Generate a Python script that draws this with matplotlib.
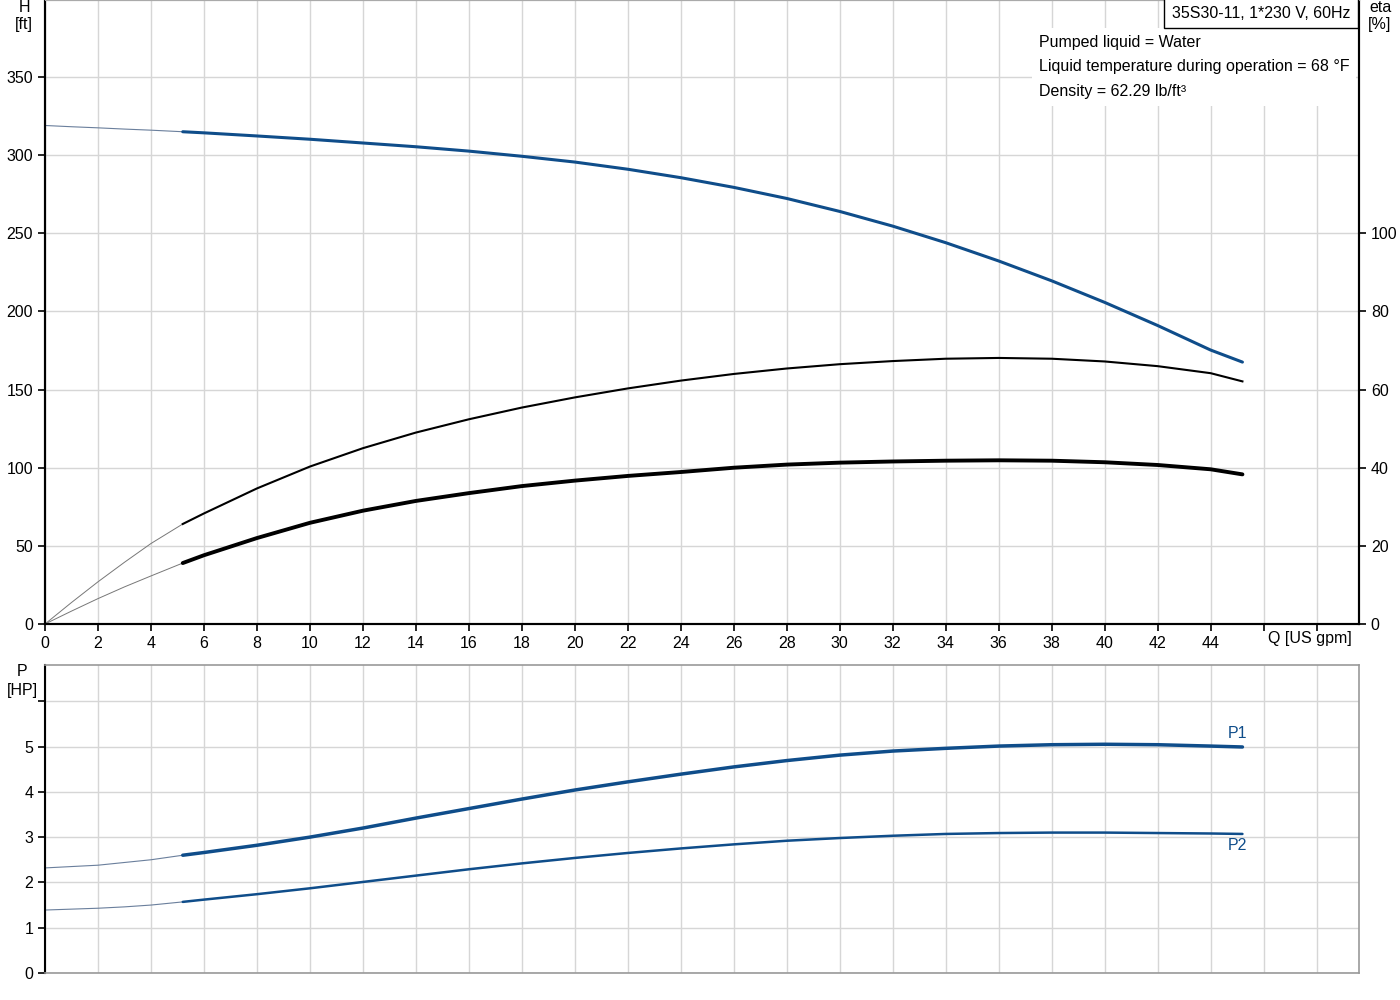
import matplotlib.pyplot as plt

plt.rcParams['font.family'] = ['Liberation Sans', 'DejaVu Sans']
plt.rcParams['font.size'] = 11.5

# flow values (US gpm) for the thin start section and the main section
q_thin = [0, 1, 2, 3, 4, 5.2]
q_main = [5.2, 6, 8, 10, 12, 14, 16, 18, 20, 22, 24, 26, 28, 30, 32, 34, 36, 38, 40, 42, 44, 45.2]

# head H [ft]
h_thin = [319, 318.2, 317.5, 316.7, 316, 315]
h_main = [315, 314.3, 312.3, 310.2, 307.8, 305.4, 302.6, 299.3, 295.6, 291, 285.6, 279.4,
          272.3, 264, 254.6, 244, 232.3, 219.6, 205.8, 191, 175.3, 167.6]

# efficiency curves [%]
eta_thin = [0, 5.5, 10.8, 15.8, 20.6, 25.6]
eta_main = [25.6, 28.3, 34.7, 40.3, 45, 49, 52.4, 55.4, 58, 60.3, 62.3, 64, 65.4, 66.5,
            67.3, 67.9, 68.1, 67.9, 67.2, 66, 64.2, 62.1]
eta2_thin = [0, 3.3, 6.5, 9.5, 12.3, 15.6]
eta2_main = [15.6, 17.6, 22, 25.9, 29, 31.5, 33.5, 35.3, 36.7, 37.9, 38.9, 40, 40.8, 41.3,
             41.6, 41.8, 41.9, 41.8, 41.4, 40.7, 39.6, 38.3]

# power curves [HP]
p1_thin = [2.32, 2.35, 2.38, 2.44, 2.5, 2.6]
p1_main = [2.6, 2.66, 2.82, 3.0, 3.2, 3.42, 3.63, 3.84, 4.04, 4.22, 4.39, 4.55, 4.69, 4.81,
           4.9, 4.96, 5.01, 5.04, 5.05, 5.04, 5.01, 4.99]
p2_thin = [1.39, 1.41, 1.43, 1.46, 1.5, 1.57]
p2_main = [1.57, 1.62, 1.74, 1.87, 2.01, 2.15, 2.29, 2.42, 2.54, 2.65, 2.75, 2.84, 2.92, 2.98,
           3.03, 3.07, 3.09, 3.1, 3.1, 3.09, 3.08, 3.07]

x_ticks = list(range(0, 50, 2))
x_labels = [str(t) for t in range(0, 46, 2)] + ['', '']

blue = '#0f4d8a'
thin_blue = '#6a7f9c'
grid_c = '#d6d6d6'

fig = plt.figure(figsize=(14, 10), dpi=100)
ax = fig.add_axes([45/1400, 0.376, 1314/1400, 0.624])
ax2 = ax.twinx()
ax2.set_zorder(ax.get_zorder() + 1)

ax.plot(q_thin, h_thin, color=thin_blue, lw=0.8)
ax.plot(q_main, h_main, color=blue, lw=2.2, solid_capstyle='round')
ax2.plot(q_thin, eta_thin, color='#777777', lw=0.7)
ax2.plot(q_main, eta_main, color='black', lw=1.5)
ax2.plot(q_thin, eta2_thin, color='#777777', lw=0.7)
ax2.plot(q_main, eta2_main, color='black', lw=2.8, solid_capstyle='round')

ax.set_xlim(0, 49.6)
ax.set_ylim(0, 399.3)
ax2.set_ylim(0, 399.3 / 2.5)
ax.set_xticks(x_ticks)
ax.set_xticklabels(x_labels)
ax.set_yticks([0, 50, 100, 150, 200, 250, 300, 350])
ax2.set_yticks([0, 20, 40, 60, 80, 100])
ax.grid(True, color=grid_c, lw=1)
ax.tick_params(direction='out', length=5, width=1.2)
ax2.tick_params(direction='out', length=5, width=1.2)
for s in ['left', 'bottom', 'right']:
    ax.spines[s].set_linewidth(1.5)
    ax2.spines[s].set_linewidth(1.5)
ax.spines['top'].set_color('#aaaaaa')
ax2.spines['top'].set_color('#aaaaaa')

fig.text(24/1400, 1 - 8/1000, 'H', ha='center', va='center')
fig.text(24/1400, 1 - 25/1000, '[ft]', ha='center', va='center')
fig.text(1380/1400, 1 - 8/1000, 'eta', ha='center', va='center')
fig.text(1380/1400, 1 - 25/1000, '[%]', ha='center', va='center')
fig.text(1310/1400, 1 - 639/1000, 'Q [US gpm]', ha='center', va='center')

# info block sits over the grid but under the spines
ax.text(1039/1400, 1 - 35/1000,
        'Pumped liquid = Water\nLiquid temperature during operation = 68 °F\nDensity = 62.29 lb/ft³',
        transform=fig.transFigure, ha='left', va='top', linespacing=1.78, zorder=2,
        bbox=dict(facecolor='white', edgecolor='none', pad=5))
ax2.text(1261/1400, 1 - 13/1000, '35S30-11, 1*230 V, 60Hz', transform=fig.transFigure,
         ha='center', va='center', zorder=6,
         bbox=dict(facecolor='white', edgecolor='black', lw=1, boxstyle='square,pad=0.5'))

# power axes
axp = fig.add_axes([45/1400, 0.027, 1314/1400, 0.308])
axp.plot(q_thin, p1_thin, color=thin_blue, lw=0.8)
axp.plot(q_main, p1_main, color=blue, lw=2.5, solid_capstyle='round')
axp.plot(q_thin, p2_thin, color=thin_blue, lw=0.8)
axp.plot(q_main, p2_main, color=blue, lw=1.8, solid_capstyle='round')
axp.text(45.0, 5.12, 'P1', color=blue, ha='center', va='bottom')
axp.text(45.0, 2.97, 'P2', color=blue, ha='center', va='top')

axp.set_xlim(0, 49.6)
axp.set_ylim(0, 6.8)
axp.set_xticks(x_ticks)
axp.set_xticklabels([])
axp.set_yticks(range(0, 7))
axp.set_yticklabels(['0', '1', '2', '3', '4', '5', ''])
axp.grid(True, color=grid_c, lw=1)
axp.tick_params(axis='y', direction='out', length=5, width=1.2)
axp.tick_params(axis='x', length=0)
axp.spines['left'].set_linewidth(1.5)
for s in ['top', 'right', 'bottom']:
    axp.spines[s].set_color('#999999')
    axp.spines[s].set_linewidth(1.2)

fig.text(22/1400, 1 - 672/1000, 'P', ha='center', va='center')
fig.text(22/1400, 1 - 690/1000, '[HP]', ha='center', va='center')

fig.savefig('out.png', dpi=100)
